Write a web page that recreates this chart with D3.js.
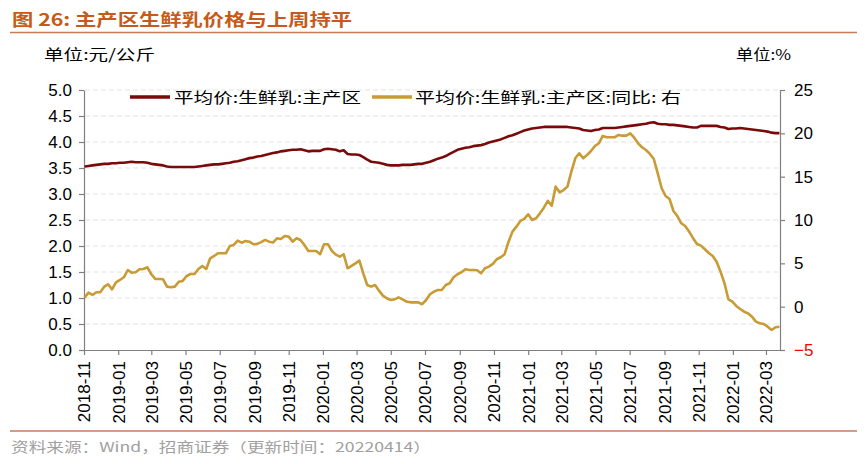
<!DOCTYPE html>
<html>
<head>
<meta charset="utf-8">
<script src="https://cdn.jsdelivr.net/npm/d3@7"></script>
<style>
  body { margin: 0; background: #fff; }
  text { font-family: "Liberation Sans", Arial, sans-serif; }
  .cjk { font-family: "Noto Sans CJK SC", sans-serif; }
</style>
</head>
<body>
<svg id="chart" width="867" height="464"></svg>
<script>
"use strict";

// weekly series, first week 2018-11-02
const first_week = new Date(2018, 10, 2)

const price = [
   3.53, 3.54, 3.55, 3.56, 3.57, 3.58, 3.58, 3.59, 3.59, 3.60,
   3.60, 3.61, 3.62, 3.61, 3.61, 3.61, 3.60, 3.58, 3.57, 3.56,
   3.55, 3.53, 3.52, 3.52, 3.52, 3.52, 3.52, 3.52, 3.52, 3.53,
   3.54, 3.55, 3.56, 3.57, 3.57, 3.58, 3.59, 3.60, 3.62, 3.63,
   3.65, 3.67, 3.69, 3.70, 3.72, 3.73, 3.75, 3.77, 3.79, 3.80,
   3.82, 3.83, 3.84, 3.85, 3.85, 3.86, 3.84, 3.82, 3.83, 3.83,
   3.83, 3.86, 3.87, 3.86, 3.85, 3.82, 3.84, 3.77, 3.76, 3.76,
   3.75, 3.71, 3.66, 3.62, 3.61, 3.60, 3.58, 3.56, 3.55, 3.55,
   3.55, 3.56, 3.56, 3.56, 3.57, 3.58, 3.58, 3.60, 3.62, 3.65,
   3.68, 3.70, 3.73, 3.77, 3.81, 3.85, 3.87, 3.89, 3.90, 3.92,
   3.93, 3.94, 3.96, 3.99, 4.01, 4.03, 4.05, 4.08, 4.11, 4.13,
   4.16, 4.19, 4.22, 4.24, 4.26, 4.27, 4.28, 4.29, 4.29, 4.29,
   4.29, 4.29, 4.29, 4.29, 4.28, 4.27, 4.26, 4.23, 4.22, 4.21,
   4.23, 4.24, 4.27, 4.27, 4.27, 4.27, 4.28, 4.29, 4.30, 4.31,
   4.32, 4.33, 4.34, 4.35, 4.37, 4.38, 4.35, 4.34, 4.34, 4.33,
   4.33, 4.32, 4.31, 4.30, 4.29, 4.28, 4.28, 4.31, 4.31, 4.31,
   4.31, 4.31, 4.29, 4.28, 4.25, 4.26, 4.26, 4.27, 4.26, 4.25,
   4.24, 4.23, 4.22, 4.21, 4.20, 4.18, 4.17, 4.17
]

const yoy = [
   1.04, 1.62, 1.35, 1.66, 1.66, 2.31, 2.58, 2.00, 2.81, 3.08,
   3.39, 4.23, 3.92, 3.97, 4.31, 4.35, 4.54, 3.74, 3.20, 3.20,
   3.16, 2.31, 2.24, 2.31, 2.88, 2.97, 3.54, 3.77, 3.77, 4.35,
   4.70, 4.35, 5.58, 5.85, 6.16, 6.16, 6.16, 7.00, 7.12, 7.62,
   7.38, 7.58, 7.50, 7.20, 7.25, 7.45, 7.70, 7.50, 7.40, 7.89,
   7.81, 8.16, 8.08, 7.50, 7.89, 7.70, 7.12, 6.43, 6.43, 6.43,
   6.05, 7.20, 7.20, 6.43, 6.00, 5.77, 6.05, 4.43, 4.70, 5.00,
   5.31, 3.85, 2.50, 2.31, 2.50, 1.85, 1.27, 0.97, 0.77, 0.85,
   1.08, 0.85, 0.58, 0.50, 0.50, 0.50, 0.28, 0.77, 1.43, 1.73,
   1.93, 1.93, 2.50, 2.70, 3.39, 3.74, 3.97, 4.31, 4.23, 4.23,
   4.20, 3.85, 4.43, 4.62, 4.93, 5.47, 5.70, 6.05, 7.50, 8.66,
   9.23, 9.89, 10.12, 10.66, 10.00, 10.20, 10.77, 11.42, 12.20, 11.65,
   13.85, 13.20, 13.46, 13.85, 15.58, 17.12, 17.70, 17.12, 17.50, 17.96,
   18.54, 18.85, 19.70, 19.54, 19.54, 19.54, 19.81, 19.73, 19.73, 20.00,
   19.50, 18.85, 18.39, 18.08, 17.62, 17.04, 15.39, 13.66, 12.77, 12.43,
   11.04, 10.46, 9.62, 9.31, 8.65, 7.90, 7.23, 7.04, 6.62, 6.20,
   5.85, 5.19, 4.04, 2.70, 0.85, 0.58, 0.08, -0.27, -0.58, -0.77,
   -1.15, -1.73, -1.92, -2.00, -2.31, -2.69, -2.38, -2.31
]

const left_ticks = [0, 0.5, 1, 1.5, 2, 2.5, 3, 3.5, 4, 4.5, 5]
const right_ticks = [-5, 0, 5, 10, 15, 20, 25]

const title = '图 26:  主产区生鲜乳价格与上周持平'
const unit_left = '单位:元/公斤'
const unit_right = '单位:%'
const legend_names = ['平均价:生鲜乳:主产区', '平均价:生鲜乳:主产区:同比:  右']
const source = '资料来源：Wind，招商证券（更新时间：20220414）'

const red = '#7a0a0a'
const gold = '#c89b34'
const rule = '#c97a58'

const weeks = price.map((d, i) => d3.timeWeek.offset(first_week, i))

const x = d3.scaleTime()
   .domain([new Date(2018, 10, 1), new Date(2022, 2, 26)])
   .range([84, 780])
const y_left = d3.scaleLinear().domain([0, 5]).range([350, 90])
const y_right = d3.scaleLinear().domain([-5, 25]).range([350, 90])

const svg = d3.select('#chart')

// header
svg.append('text')
   .attr('class', 'cjk')
   .attr('x', 12).attr('y', 26)
   .attr('font-size', 17).attr('font-weight', 'bold')
   .attr('fill', '#c55a1a')
   .attr('textLength', 340).attr('lengthAdjust', 'spacingAndGlyphs')
   .text(title)
svg.append('line')
   .attr('x1', 10).attr('x2', 857).attr('y1', 32.5).attr('y2', 32.5)
   .attr('stroke', rule).attr('stroke-width', 1.5)

svg.append('text')
   .attr('class', 'cjk')
   .attr('x', 44).attr('y', 60)
   .attr('font-size', 15)
   .attr('textLength', 111).attr('lengthAdjust', 'spacingAndGlyphs')
   .text(unit_left)
svg.append('text')
   .attr('class', 'cjk')
   .attr('x', 736).attr('y', 60)
   .attr('font-size', 15)
   .attr('textLength', 55).attr('lengthAdjust', 'spacingAndGlyphs')
   .text(unit_right)

// grid
svg.append('g')
   .selectAll('line')
   .data(left_ticks.filter(d => d > 0))
   .enter().append('line')
      .attr('x1', 85).attr('x2', 779)
      .attr('y1', d => y_left(d)).attr('y2', d => y_left(d))
      .attr('stroke', '#e3e3e3')
      .attr('stroke-dasharray', '5,3')

// axes
let ax_left = svg.append('g')
   .attr('transform', 'translate(84,0)')
   .call(d3.axisLeft(y_left).tickValues(left_ticks).tickFormat(d3.format('.1f')).tickSize(5).tickSizeOuter(0))
let ax_right = svg.append('g')
   .attr('transform', 'translate(780,0)')
   .call(d3.axisRight(y_right).tickValues(right_ticks).tickSize(5).tickSizeOuter(0))
let ax_bottom = svg.append('g')
   .attr('transform', 'translate(0,350)')
   .call(d3.axisBottom(x)
      .tickValues(d3.timeMonth.every(2).range(new Date(2018, 10, 1), new Date(2022, 2, 2)))
      .tickFormat(d3.timeFormat('%Y-%m'))
      .tickSize(5).tickSizeOuter(0))

for (const ax of [ax_left, ax_right, ax_bottom]) {
   ax.select('.domain').attr('stroke', '#808080').attr('stroke-width', 1.2)
   ax.selectAll('.tick line').attr('stroke', '#808080').attr('stroke-width', 1.2)
   ax.selectAll('.tick text')
      .attr('font-family', '"Liberation Sans", Arial, sans-serif')
      .attr('font-size', 17).attr('fill', '#000')
}
ax_left.selectAll('.tick text').attr('x', -12)
ax_right.selectAll('.tick text').attr('x', 14)
   .attr('fill', d => d < 0 ? '#ff0000' : '#000')
ax_bottom.selectAll('.tick text')
   .attr('transform', 'rotate(-90)')
   .attr('text-anchor', 'end')
   .attr('x', -11).attr('y', 0)
   .attr('dy', '0.35em')

// lines
svg.append('path')
   .datum(yoy)
   .attr('fill', 'none')
   .attr('stroke', gold).attr('stroke-width', 2.6)
   .attr('stroke-linejoin', 'round')
   .attr('d', d3.line().x((d, i) => x(weeks[i])).y(d => y_right(d)))
svg.append('path')
   .datum(price)
   .attr('fill', 'none')
   .attr('stroke', red).attr('stroke-width', 2.6)
   .attr('stroke-linejoin', 'round')
   .attr('d', d3.line().x((d, i) => x(weeks[i])).y(d => y_left(d)))

// legend
const legend_items = [
   {name: legend_names[0], color: red, x0: 130, tx: 174, len: 187},
   {name: legend_names[1], color: gold, x0: 372, tx: 415, len: 266}
]
let legend = svg.append('g')
legend.selectAll('line')
   .data(legend_items)
   .enter().append('line')
      .attr('x1', d => d.x0).attr('x2', d => d.x0 + 40)
      .attr('y1', 97).attr('y2', 97)
      .attr('stroke', d => d.color).attr('stroke-width', 3.5)
legend.selectAll('text')
   .data(legend_items)
   .enter().append('text')
      .attr('class', 'cjk')
      .attr('x', d => d.tx).attr('y', 103)
      .attr('font-size', 15)
      .attr('textLength', d => d.len).attr('lengthAdjust', 'spacingAndGlyphs')
      .text(d => d.name)

// footer
svg.append('line')
   .attr('x1', 10).attr('x2', 857).attr('y1', 431).attr('y2', 431)
   .attr('stroke', rule).attr('stroke-width', 1.5)
svg.append('text')
   .attr('class', 'cjk')
   .attr('x', 11).attr('y', 452)
   .attr('font-size', 13.5)
   .attr('fill', '#a0a0a0')
   .attr('textLength', 420).attr('lengthAdjust', 'spacingAndGlyphs')
   .text(source)
</script>
</body>
</html>
